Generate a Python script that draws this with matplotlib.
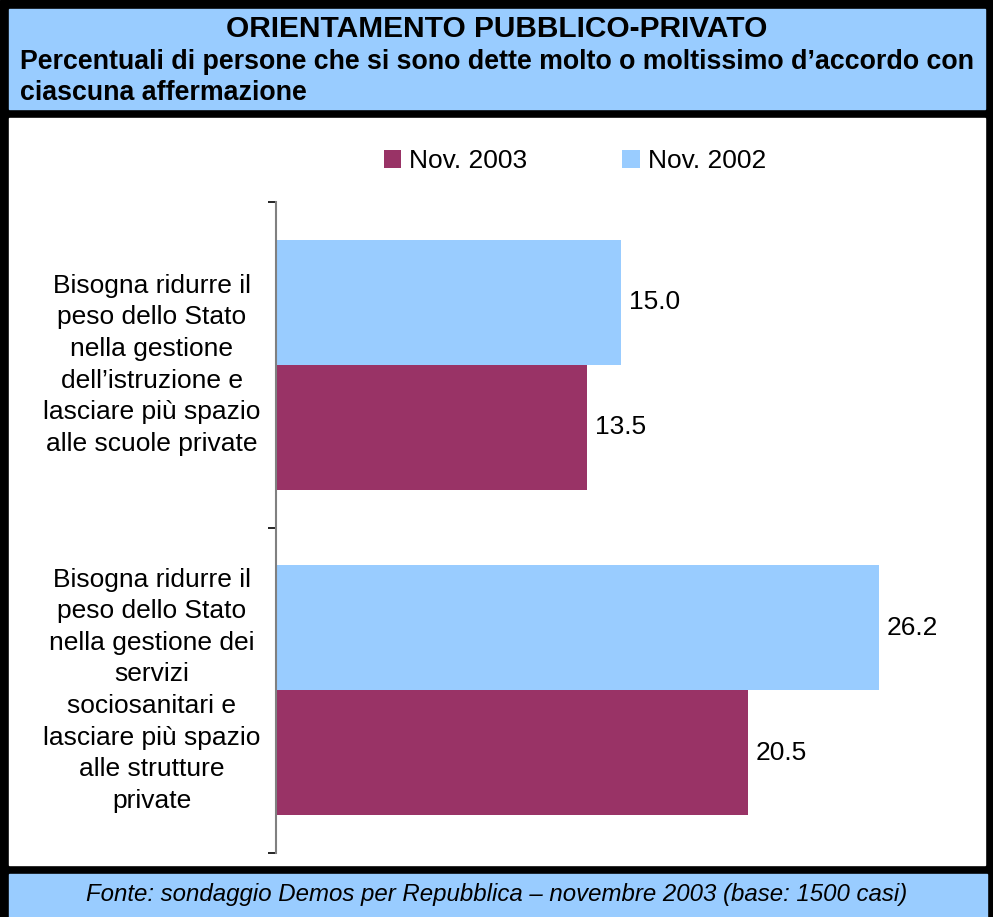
import matplotlib
matplotlib.use('Agg')
import matplotlib.pyplot as plt
from matplotlib.patches import Rectangle

plt.rcParams['font.family'] = ['Liberation Sans', 'DejaVu Sans']

categorie = ['Bisogna ridurre il\npeso dello Stato\nnella gestione\ndell\u2019istruzione e\nlasciare pi\u00f9 spazio\nalle scuole private',
             'Bisogna ridurre il\npeso dello Stato\nnella gestione dei\nservizi\nsociosanitari e\nlasciare pi\u00f9 spazio\nalle strutture\nprivate']
nov2003 = [13.5, 20.5]
nov2002 = [15.0, 26.2]

blu = '#99CCFF'
bordeaux = '#993366'

W, H = 993, 917
fig = plt.figure(figsize=(W / 100, H / 100), dpi=100)

def box(x0, y0, x1, y1, color):
    # coordinate in pixel dall'alto
    fig.patches.append(Rectangle((x0 / W, 1 - y1 / H), (x1 - x0) / W, (y1 - y0) / H,
                                 transform=fig.transFigure, color=color, zorder=-5))

box(0, 0, W, H, 'black')
box(9, 9, 985, 109, blu)
box(9, 118, 985, 865, 'white')
box(9, 874, 987, H, blu)

fig.text(0.5, 1 - 29 / H, 'ORIENTAMENTO PUBBLICO-PRIVATO', ha='center', va='center',
         fontsize=21.5, fontweight='bold')
fig.text(20 / W, 1 - 62 / H, 'Percentuali di persone che si sono dette molto o moltissimo d\u2019accordo con',
         ha='left', va='center', fontsize=19.3, fontweight='bold')
fig.text(20 / W, 1 - 93 / H, 'ciascuna affermazione', ha='left', va='center',
         fontsize=19.3, fontweight='bold')
fig.text(0.5, 1 - 894 / H, 'Fonte: sondaggio Demos per Repubblica \u2013 novembre 2003 (base: 1500 casi)',
         ha='center', va='center', fontsize=17.3, fontstyle='italic')

ax = fig.add_axes([276 / W, 1 - 853 / H, (966 - 276) / W, (853 - 202) / H])
ax.set_facecolor('none')
ax.set_zorder(2)

h = 125 / 326
pos = list(range(len(categorie)))
b02 = ax.barh([p - h / 2 for p in pos], nov2002, height=h, color=blu, label='Nov. 2002')
b03 = ax.barh([p + h / 2 for p in pos], nov2003, height=h, color=bordeaux, label='Nov. 2003')

for p, v in zip(pos, nov2002):
    ax.text(v + 0.35, p - h / 2, f'{v:.1f}', va='center', ha='left', fontsize=19)
for p, v in zip(pos, nov2003):
    ax.text(v + 0.35, p + h / 2, f'{v:.1f}', va='center', ha='left', fontsize=19)

for p, lab in zip(pos, categorie):
    ax.text(-5.4, p, lab, ha='center', va='center', fontsize=19, linespacing=1.4)

ax.set_xlim(0, 30)
ax.set_ylim(1.5, -0.5)
ax.set_yticks([-0.5, 0.5, 1.5])
ax.set_yticklabels([])
ax.set_xticks([])
for s in ['top', 'right', 'bottom']:
    ax.spines[s].set_visible(False)
ax.spines['left'].set_color('#808080')
ax.spines['left'].set_linewidth(1.5)
ax.tick_params(axis='y', length=6, width=1.2, color='black')

leg = fig.legend(handles=[b03, b02], loc='center', bbox_to_anchor=(575 / W, 1 - 161 / H),
                 ncol=2, frameon=False, fontsize=19, handlelength=0.65, handleheight=0.65,
                 handletextpad=0.3, columnspacing=3.6)
leg.set_zorder(3)

fig.savefig('out.png', dpi=100)
